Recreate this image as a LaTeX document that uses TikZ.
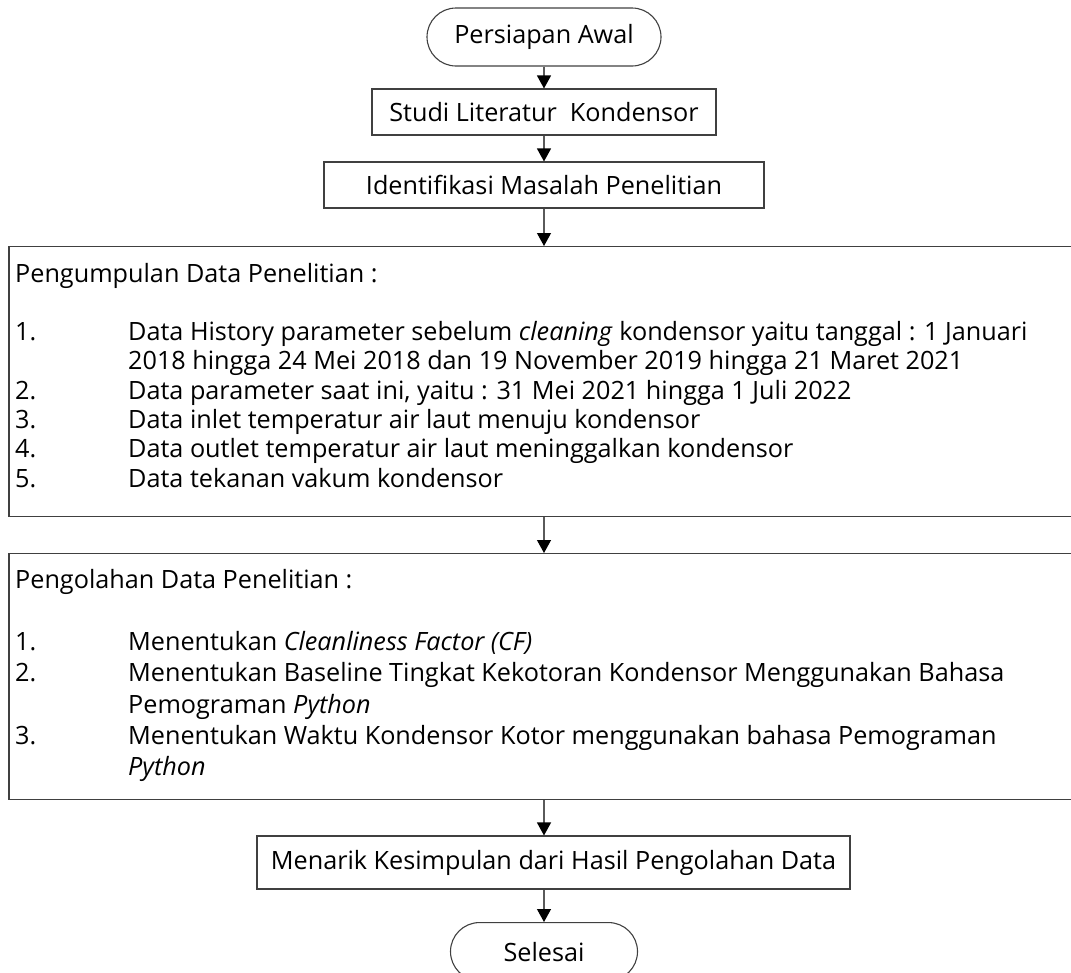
\documentclass[tikz,border=0pt]{standalone}
\usepackage{fontspec}
\setmainfont{Open Sans}
\usetikzlibrary{arrows.meta}
\definecolor{edge}{HTML}{404040}
\definecolor{shaft}{HTML}{5A5A5A}
\begin{document}
\begin{tikzpicture}[x=1pt,y=-1pt,
  every node/.style={font=\fontsize{25.2}{29.3}\selectfont, text=black},
  term/.style={draw=edge, line width=1.1pt, rounded corners=29pt, minimum height=58pt, inner sep=0pt},
  proc/.style={draw=edge, line width=1.1pt, inner sep=0pt},
  txt/.style={inner sep=0pt, anchor=base west},
  arr/.style={draw=shaft, line width=1.2pt, -{Triangle[width=14pt,length=13pt,color=black]}}]
\useasboundingbox (0,0) rectangle (1071,972);
\node[term, minimum width=234pt] (start) at (544,37) {Persiapan Awal};
\node[proc, minimum width=344pt, minimum height=46pt] (studi) at (544,112) {Studi Literatur\ \ Kondensor};
\node[proc, minimum width=440pt, minimum height=46pt] (ident) at (544,185) {Identifikasi Masalah Penelitian};
\node[proc, minimum width=1070pt, minimum height=270pt, anchor=north] (pd) at (544,246) {};
\node[txt] (pdt) at (15,282) {\begin{tabular}[t]{@{}p{113pt}@{}l@{}}
\multicolumn{2}{@{}l@{}}{Pengumpulan Data Penelitian :}\\
 & \\
1. & Data History parameter sebelum \textit{cleaning} kondensor yaitu tanggal : 1 Januari\\
 & 2018 hingga 24 Mei 2018 dan 19 November 2019 hingga 21 Maret 2021\\
2. & Data parameter saat ini, yaitu : 31 Mei 2021 hingga 1 Juli 2022\\
3. & Data inlet temperatur air laut menuju kondensor\\
4. & Data outlet temperatur air laut meninggalkan kondensor\\
5. & Data tekanan vakum kondensor
\end{tabular}};
\node[proc, minimum width=1070pt, minimum height=246pt, anchor=north] (pr) at (544,553) {};
\node[txt, font=\fontsize{25.2}{31.3}\selectfont] (prt) at (15,588) {\begin{tabular}[t]{@{}p{113pt}@{}l@{}}
\multicolumn{2}{@{}l@{}}{Pengolahan Data Penelitian :}\\
 & \\
1. & Menentukan \textit{Cleanliness Factor (CF)}\\
2. & Menentukan Baseline Tingkat Kekotoran Kondensor Menggunakan Bahasa\\
 & Pemograman \textit{Python}\\
3. & Menentukan Waktu Kondensor Kotor menggunakan bahasa Pemograman\\
 & \textit{Python}
\end{tabular}};
\node[proc, minimum width=593pt, minimum height=53pt] (menarik) at (553.5,862.5) {Menarik Kesimpulan dari Hasil Pengolahan Data};
\node[term, minimum width=187pt, anchor=north] (finish) at (544,922) {Selesai};
\draw[arr] (start) -- (studi);
\draw[arr] (studi) -- (ident);
\draw[arr] (ident) -- (pd.north);
\draw[arr] (pd.south) -- (pr.north);
\draw[arr] (pr.south) -- (pr.south |- menarik.north);
\draw[arr] (finish.north |- menarik.south) -- (finish.north);
\end{tikzpicture}
\end{document}
